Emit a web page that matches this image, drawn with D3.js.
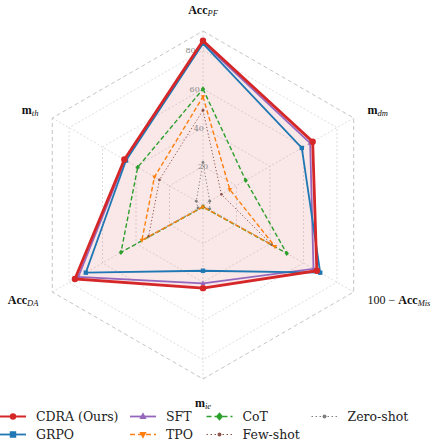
<!DOCTYPE html>
<html><head><meta charset="utf-8">
<script src="https://cdn.jsdelivr.net/npm/d3@7"></script>
<style>body{margin:0;background:#fff}svg{display:block}</style>
</head><body>
<svg id="c" width="432" height="442"></svg>
<script>
// axes (clockwise from top)
const axes = [
  {main:"Acc", sub:"PF", pre:""},
  {main:"m", sub:"dm", pre:""},
  {main:"Acc", sub:"Mis", pre:"100 \u2212 "},
  {main:"m", sub:"ie", pre:""},
  {main:"Acc", sub:"DA", pre:""},
  {main:"m", sub:"th", pre:""}
];
const seriesNames = ["CDRA (Ours)","GRPO","SFT","TPO","CoT","Few-shot","Zero-shot"];
const cdra     = [85, 65.5, 68, 43, 76.5, 47];
const grpo     = [83.5, 59, 70, 34, 70, 46];
const sft      = [84, 64, 66, 40.5, 74.5, 46.5];
const tpo      = [56, 16, 43, 1, 36.5, 29];
const cot      = [60, 25.5, 50, 1, 49, 39];
const fewShot  = [49, 11, 41, 1, 32.5, 26];
const zeroShot = [22, 4, 4, 1, 3, 4];
const radialTicks = [20, 40, 60, 80];
const rMax = 90;

const styles = [
  {color:"#d62728", w:2.8, dash:null, marker:"circle", ms:3.2, lms:3.2},
  {color:"#1f77b4", w:1.8, dash:null, marker:"square", ms:2.2, lms:3.2},
  {color:"#9467bd", w:1.8, dash:null, marker:"triangle", ms:2.4, lms:3.6},
  {color:"#ff7f0e", w:1.4, dash:"4.5,2.5", marker:"tridown", ms:2.2, lms:3.6},
  {color:"#2ca02c", w:1.4, dash:"4.5,2.5", marker:"diamond", ms:2.2, lms:3.6},
  {color:"#8c564b", w:1.0, dash:"1.2,2.2", marker:"circle", ms:1.4, lms:2.0},
  {color:"#7f7f7f", w:1.0, dash:"1.2,2.2", marker:"circle", ms:1.4, lms:2.0}
];
const data = [cdra, grpo, sft, tpo, cot, fewShot, zeroShot];

const svg = d3.select("#c");
const cx = 203, cy = 205;
const r = d3.scaleLinear().domain([0, rMax]).range([0, 174]);
const ang = d3.scaleLinear().domain([0, axes.length]).range([0, 2*Math.PI]);
const pt = (i, v) => [cx + r(v)*Math.sin(ang(i)), cy - r(v)*Math.cos(ang(i))];
const idx = d3.range(axes.length);
const lineGen = d3.line().curve(d3.curveLinearClosed);

const g = svg.append("g");
// grid
radialTicks.forEach(t => {
  g.append("path").attr("d", lineGen(idx.map(i => pt(i, t))))
    .attr("fill","none").attr("stroke","#cfcfcf").attr("stroke-width",0.7).attr("stroke-dasharray","2,2");
});
idx.forEach(i => {
  const p = pt(i, rMax);
  g.append("line").attr("x1",cx).attr("y1",cy).attr("x2",p[0]).attr("y2",p[1])
    .attr("stroke","#cfcfcf").attr("stroke-width",0.7).attr("stroke-dasharray","2,2");
});
g.append("path").attr("d", lineGen(idx.map(i => pt(i, rMax))))
  .attr("fill","none").attr("stroke","#bdbdbd").attr("stroke-width",0.9).attr("stroke-dasharray","4,3");

// fill of CDRA
g.append("path").attr("d", lineGen(idx.map(i => pt(i, cdra[i]))))
  .attr("fill","#d62728").attr("fill-opacity",0.11).attr("stroke","none");

// tick labels
radialTicks.forEach(t => {
  const rr = r(t);
  g.append("text").attr("x", cx + 4 - 0.106*rr).attr("y", cy - rr + 3)
    .attr("text-anchor","middle").attr("font-family","DejaVu Serif").attr("font-size",8)
    .attr("fill","#8a8a8a").text(t);
});

function marker(sel, type, x, y, s, color) {
  let d;
  if (type === "circle") { sel.append("circle").attr("cx",x).attr("cy",y).attr("r",s).attr("fill",color); return; }
  if (type === "square") d = `M${x-s},${y-s}h${2*s}v${2*s}h${-2*s}Z`;
  if (type === "triangle") d = `M${x},${y-s*1.2}L${x+s},${y+s*0.7}L${x-s},${y+s*0.7}Z`;
  if (type === "tridown") d = `M${x},${y+s*1.2}L${x+s},${y-s*0.7}L${x-s},${y-s*0.7}Z`;
  if (type === "diamond") d = `M${x},${y-s*1.2}L${x+s},${y}L${x},${y+s*1.2}L${x-s},${y}Z`;
  sel.append("path").attr("d",d).attr("fill",color);
}

// series, draw back to front
for (let k = data.length-1; k >= 0; k--) {
  const st = styles[k];
  const pts = idx.map(i => pt(i, data[k][i]));
  const p = g.append("path").attr("d", lineGen(pts)).attr("fill","none")
    .attr("stroke", st.color).attr("stroke-width", st.w).attr("stroke-linejoin","miter");
  if (st.dash) p.attr("stroke-dasharray", st.dash);
  pts.forEach(q => marker(g, st.marker, q[0], q[1], st.ms, st.color));
}

// axis labels
const labR = 190;
axes.forEach((a, i) => {
  const th = ang(i);
  const x = cx + labR*Math.sin(th), y = cy - labR*Math.cos(th);
  const s = Math.sin(th);
  let anchor = Math.abs(s) < 0.01 ? "middle" : (s > 0 ? "start" : "end");
  let yy = y + 4;
  if (Math.abs(s) < 0.01) yy = Math.cos(th) > 0 ? y - 1 : y + 12;
  const t = g.append("text").attr("x", x).attr("y", yy).attr("text-anchor", anchor)
    .attr("font-family","Liberation Serif").attr("fill","#111");
  if (a.pre) t.append("tspan").attr("font-size",12).text(a.pre);
  t.append("tspan").attr("font-size",12).attr("font-weight","bold").text(a.main);
  t.append("tspan").attr("font-size",8.5).attr("font-style","italic").attr("dy",2).text(a.sub);
});

// legend
const colX = [0, 130, 206.5, 311.5];
const rowY = [416.5, 434.5];
seriesNames.forEach((name, k) => {
  const col = Math.floor(k/2), row = k % 2;
  const x0 = colX[col], y0 = rowY[row];
  const st = styles[k];
  const l = svg.append("line").attr("x1",x0).attr("x2",x0+26).attr("y1",y0).attr("y2",y0)
    .attr("stroke",st.color).attr("stroke-width",Math.min(st.w,2));
  if (st.dash) l.attr("stroke-dasharray", k>=5 ? "1.5,2.5" : "5,3");
  marker(svg, st.marker, x0+13, y0, st.lms, st.color);
  svg.append("text").attr("x", x0+36).attr("y", y0+4.5).attr("font-family","DejaVu Serif")
    .attr("font-size",12.5).attr("fill","#222").text(name);
});
</script>
</body></html>
